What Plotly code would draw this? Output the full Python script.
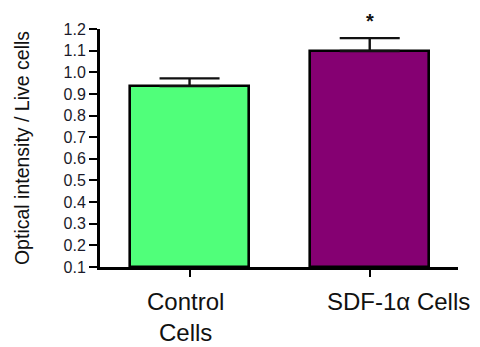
import plotly.graph_objects as go

categories = ["Control<br>Cells", "SDF-1α Cells"]
means = [0.936, 1.098]
sem_upper = [0.036, 0.060]
bar_colors = ["#50FF7A", "#850072"]
y_ticks = [0.1, 0.2, 0.3, 0.4, 0.5, 0.6, 0.7, 0.8, 0.9, 1.0, 1.1, 1.2]
significance = ["", "*"]

FONT = "Liberation Sans, Arial, sans-serif"
xpos = list(range(len(categories)))

fig = go.Figure()
fig.add_trace(go.Bar(
    x=xpos, y=[m - 0.1 for m in means], base=0.1,
    width=0.66,
    marker=dict(color=bar_colors, line=dict(color="black", width=2.6)),
    error_y=dict(type="data", symmetric=False, array=sem_upper,
                 arrayminus=[0] * len(means), color="#111", thickness=2.4, width=30),
    showlegend=False, hoverinfo="skip",
))

annotations = []
label_shift = [-4, 29]
for i, c in enumerate(categories):
    annotations.append(dict(
        x=i, y=0, xref="x", yref="paper", yanchor="top", showarrow=False,
        text=c, xshift=label_shift[i], yshift=-19,
        font=dict(family=FONT, size=24, color="#111"), align="center"))
    if significance[i]:
        annotations.append(dict(
            x=i, y=means[i] + sem_upper[i], xref="x", yref="y", yanchor="bottom",
            showarrow=False, text="<b>" + significance[i] + "</b>", yshift=4,
            font=dict(family=FONT, size=20, color="#111")))

# page body adds an 8px offset, so the figure is sized to the remaining window
fig.update_layout(
    width=472, height=339,
    margin=dict(l=92, r=22, t=21, b=80),
    plot_bgcolor="white", paper_bgcolor="white",
    bargap=0,
    annotations=annotations,
    xaxis=dict(range=[-0.497, 1.49], tickvals=xpos, ticktext=["", ""],
               showline=True, linecolor="black", linewidth=3, automargin=False,
               ticks="outside", ticklen=7, tickwidth=2.4, tickcolor="black",
               showgrid=False, zeroline=False, fixedrange=True),
    yaxis=dict(range=[0.1, 1.2], tickvals=y_ticks, tickformat=".1f",
               showline=True, linecolor="black", linewidth=3, automargin=False,
               ticks="outside", ticklen=8, tickwidth=2.4, tickcolor="black",
               tickfont=dict(family=FONT, size=16, color="#1a1a2a"),
               showgrid=False, zeroline=False,
               title=dict(text="Optical intensity / Live cells",
                          font=dict(family=FONT, size=19.5, color="#111"), standoff=29)),
)

fig.write_html("out.html")
